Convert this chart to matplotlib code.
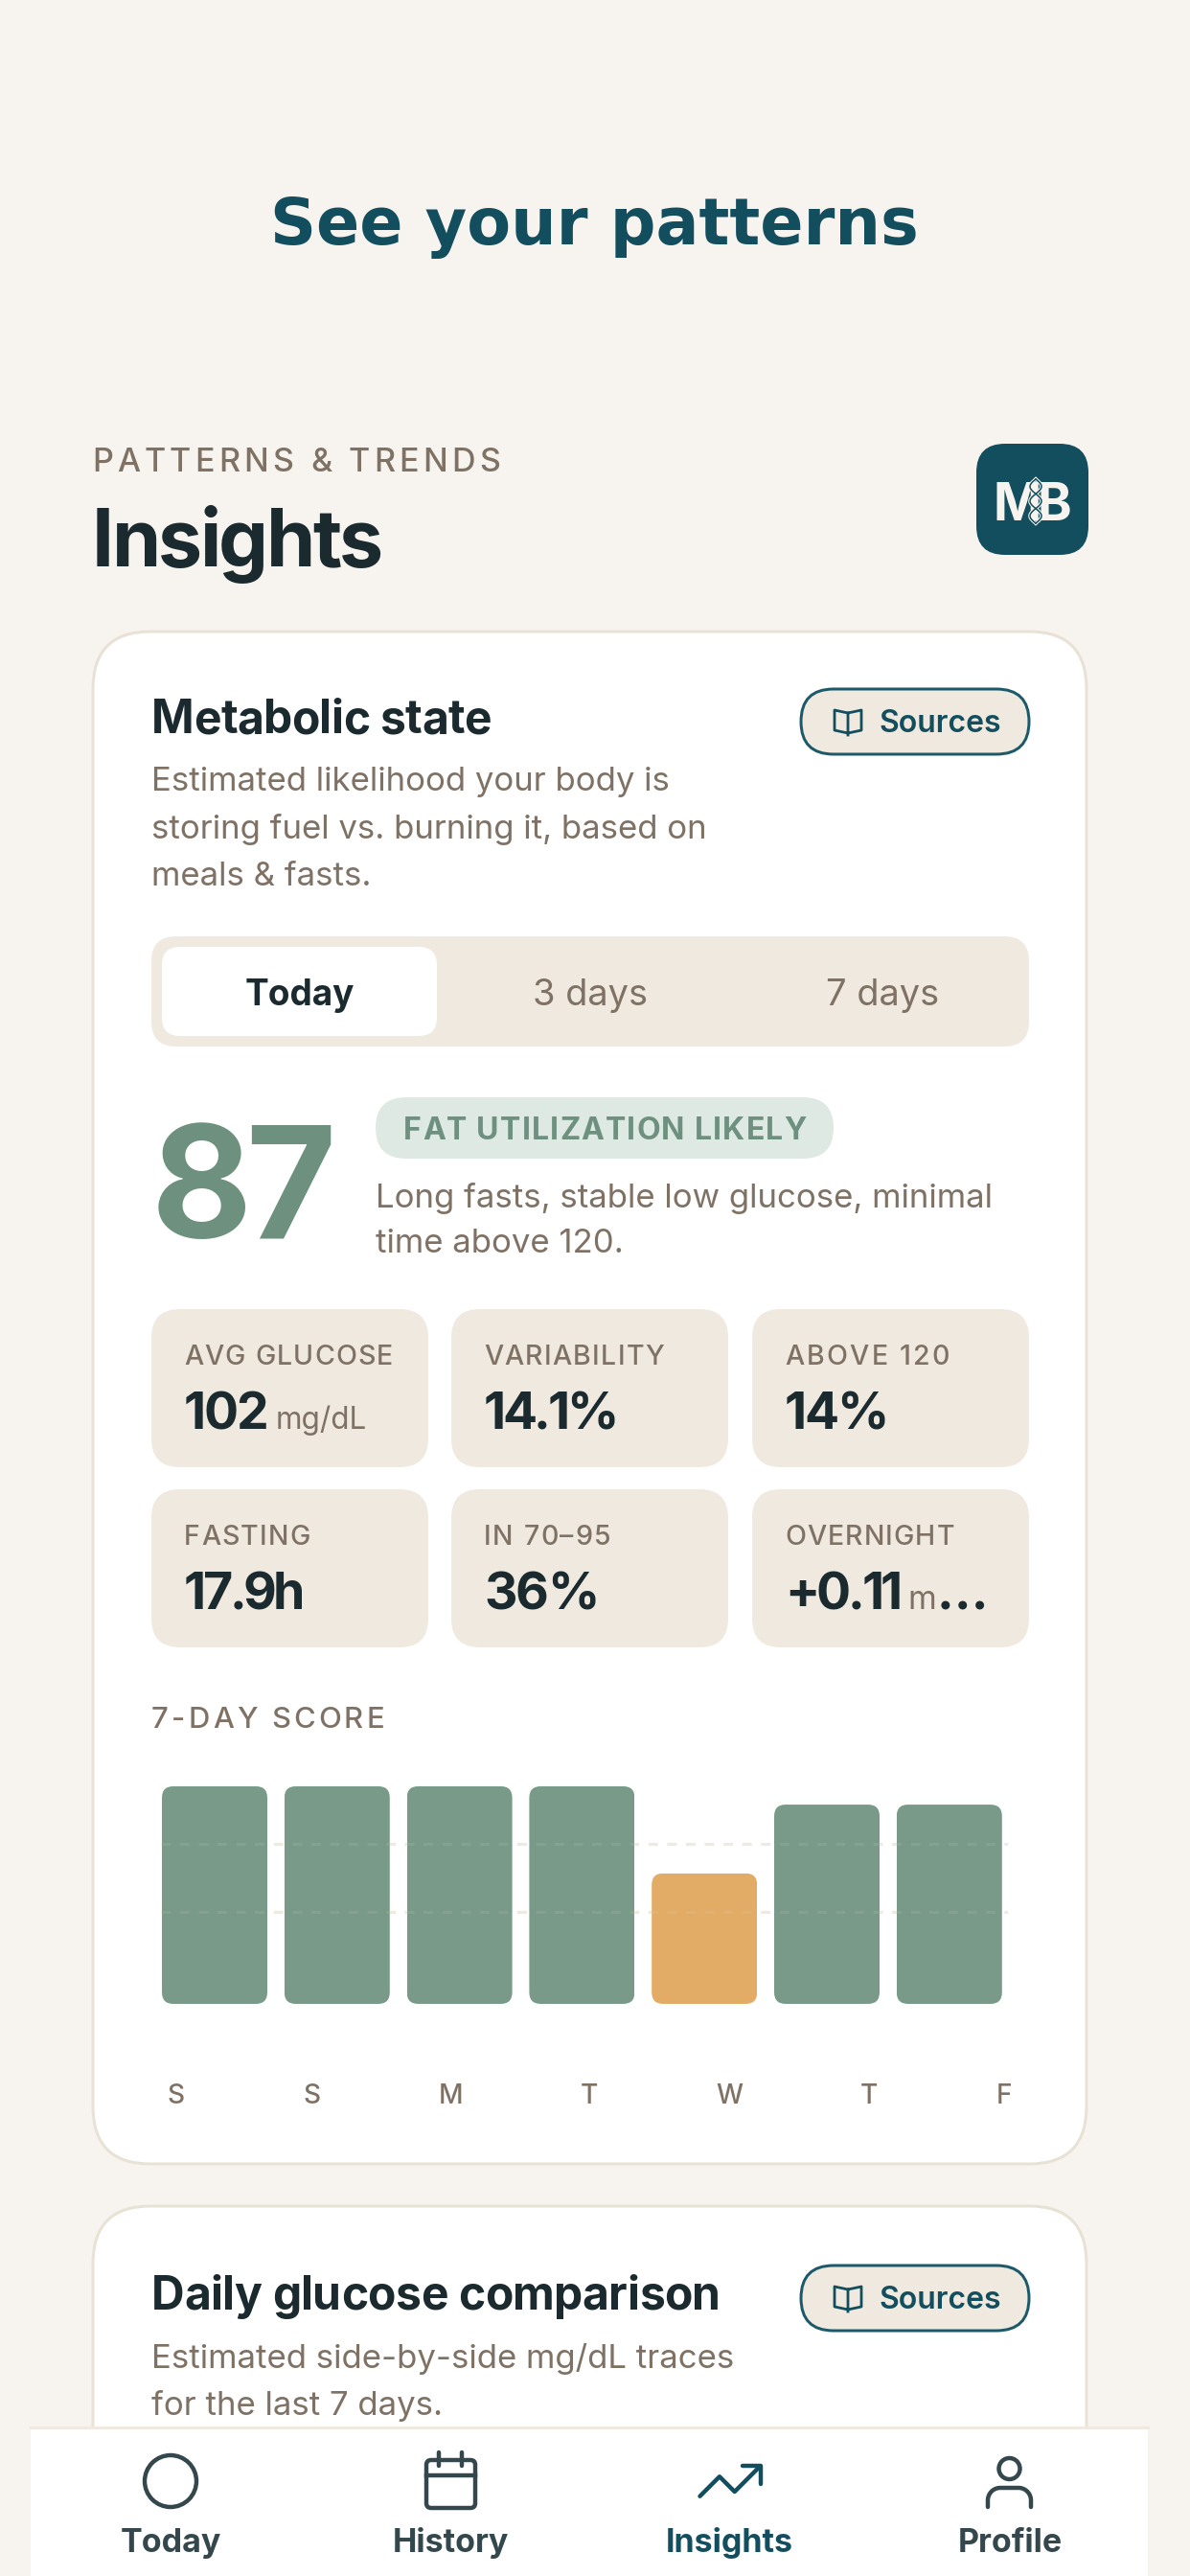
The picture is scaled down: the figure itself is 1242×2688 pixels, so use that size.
import numpy as np
import matplotlib
matplotlib.use("Agg")
import matplotlib.pyplot as plt
from matplotlib.patches import FancyBboxPatch, Circle
from matplotlib.text import Text
from matplotlib.transforms import IdentityTransform

days = ["S", "S", "M", "T", "W", "T", "F"]
scores = [95, 95, 95, 95, 57, 87, 87]
grid_levels = [40, 70]
low_cutoff = 60

stat_labels = ["AVG GLUCOSE", "VARIABILITY", "ABOVE 120", "FASTING", "IN 70–95", "OVERNIGHT"]
stat_values = ["102", "14.1%", "14%", "17.9h", "36%", "+0.11"]
stat_units = ["mg/dL", "", "", "", "", "m"]
nav_labels = ["Today", "History", "Insights", "Profile"]

W, H = 1242, 2688
BG = "#f7f4ef"; TEAL = "#134e5e"; INK = "#1a2a2e"; MUTED = "#7f7265"
SAND = "#f0e9df"; GREEN = "#7a9a89"; GREEN2 = "#6d917e"; ORANGE = "#e2ac66"; NAVINK = "#33474c"

plt.rcParams["font.family"] = ["Inter", "DejaVu Sans"]
fig = plt.figure(figsize=(W / 100, H / 100), dpi=100, facecolor=BG)
bg = fig.add_axes([0, 0, 1, 1]); bg.set_xlim(0, W); bg.set_ylim(H, 0); bg.axis("off")


class Tracked(Text):
    """Text drawn with even letter spacing so that the run fills a given pixel width."""
    target = None

    def draw(self, renderer):
        s = self.get_text(); fp = self.get_fontproperties()
        w = lambda t: renderer.get_text_width_height_descent(t, fp, False)[0]
        extra = (self.target - w(s)) / max(len(s) - 1, 1)
        X, Y = self.get_transform().transform(self.get_position())
        left = X - self.target / 2 if self.get_ha() == "center" else X
        for i, c in enumerate(s):
            if c == " ":
                continue
            x = left + w(s[:i + 1]) - w(c) + i * extra
            t = Text(x, Y, c, fontproperties=fp, color=self.get_color(), ha="left", va="baseline",
                     transform=IdentityTransform())
            t.set_figure(self.get_figure())
            t.draw(renderer)


def T(x, y, s, px, color=INK, weight="normal", ha="left", family=None, zorder=5, width=None):
    kw = {"family": family} if family else {}
    t = bg.text(x, y, s, fontsize=px * 0.72, color=color, fontweight=weight, ha=ha, va="baseline", zorder=zorder, **kw)
    if width is not None:
        t.__class__ = Tracked
        t.target = width
    return t


def R(x0, y0, x1, y1, r, fc, ec="none", lw=0, zorder=1):
    p = FancyBboxPatch((x0, y0), x1 - x0, y1 - y0, boxstyle=f"round,pad=0,rounding_size={r}",
                       fc=fc, ec=ec, lw=lw * 0.72, zorder=zorder)
    bg.add_patch(p); return p


def sources(y0):
    R(836, y0, 1074, y0 + 68, 34, SAND, "#1d5a69", 3, zorder=2)
    cx = 885; t = y0 + 22; b = y0 + 46
    bg.plot([cx, cx - 14, cx - 14, cx, cx + 14, cx + 14, cx, cx], [t + 3, t, b - 3, b, b - 3, t, t + 3, b + 2],
            color=TEAL, lw=2.0, zorder=3, solid_joinstyle="round")
    T(917, y0 + 45, "Sources", 32, TEAL, "semibold")


# header
T(620, 255, "See your patterns", 66.7, TEAL, "bold", ha="center", family="DejaVu Sans")
T(96, 492, "PATTERNS & TRENDS", 34, MUTED, "medium", width=426)
T(96, 591, "Insights", 82.5, INK, "bold", width=304)
R(1019, 463, 1136, 579, 30, TEAL)
T(1036, 543, "MB", 54, BG, "bold", width=82)
yy = np.linspace(500, 546, 60)
phase = (yy - 500) / 46 * 3 * np.pi
for sign in (1, -1):
    bg.plot(1081 + sign * 6 * np.sin(phase), yy, color=BG, lw=2.6, zorder=6)
for sign in (1, -1):
    bg.plot(1081 + sign * 6 * np.sin(phase), yy, color=TEAL, lw=1.1, zorder=7)

# card 1
R(97, 659, 1134, 2258, 60, "white", "#e8e2d6", 3)
T(158, 765, "Metabolic state", 48, INK, "bold", width=355)
sources(719)
for y, s in zip([825, 875, 924], ["Estimated likelihood your body is", "storing fuel vs. burning it, based on", "meals & fasts."]):
    T(158, y, s, 34.8, MUTED)
R(158, 977, 1074, 1092, 26, SAND)
R(169, 988, 456, 1081, 19, "white", zorder=2)
T(313, 1049, "Today", 37, INK, "bold", ha="center")
T(615.5, 1049, "3 days", 38, MUTED, ha="center")
T(921, 1049, "7 days", 38, MUTED, ha="center")

T(158, 1291, "87", 162, GREEN2, "bold", width=192)
R(392, 1145, 870, 1209, 32, "#dfe9e3")
T(421, 1189, "FAT UTILIZATION LIKELY", 32, GREEN2, "bold", width=421)
T(392, 1260, "Long fasts, stable low glucose, minimal", 34.8, MUTED)
T(392, 1307, "time above 120.", 34.8, MUTED)

xs = [158, 471, 785]; ys = [1366, 1554]
label_widths = [218, 188, 172, 132, 132, 177]
value_widths = [88, 140, 109, 126, 120, 123]
for i, (lab, val, unit) in enumerate(zip(stat_labels, stat_values, stat_units)):
    x = xs[i % 3]; y = ys[i // 3]
    R(x, y, x + 289, y + 165, 30, SAND)
    T(x + 34, y + 58, lab, 28.5, MUTED, "medium", width=label_widths[i])
    T(x + 34, y + 125, val, 53.5, INK, "bold", width=value_widths[i])
    if unit == "mg/dL":
        T(x + 130, y + 125, unit, 31.5, MUTED)
    elif unit:
        T(x + 162, y + 125, unit, 34, MUTED)
        T(x + 193, y + 125, "…", 53.5, INK, "bold", width=46)

T(158, 1803, "7-DAY SCORE", 31, MUTED, "medium", width=243)

# bar chart
PX0 = 224; PITCH = 127.8; Y0 = 2091; PXU = 2.39
xl, xr = 168, 1052
ax = fig.add_axes([xl / W, 1 - Y0 / H, (xr - xl) / W, 100 * PXU / H])
ax.set_xlim((xl - PX0) / PITCH, (xr - PX0) / PITCH); ax.set_ylim(0, 100)
ax.patch.set_alpha(0)
for s in ax.spines.values():
    s.set_visible(False)
ax.set_xticks([]); ax.set_yticks([])
colors = [ORANGE if v < low_cutoff else GREEN for v in scores]
bars = ax.bar(range(len(scores)), scores, width=110 / PITCH, color=colors, zorder=2)
rad = 12
for b in bars:
    clip = FancyBboxPatch((b.get_x(), b.get_y()), b.get_width(), b.get_height(),
                          boxstyle=f"round,pad=0,rounding_size={rad / PITCH}",
                          mutation_aspect=PITCH / PXU, transform=ax.transData)
    b.set_clip_path(clip)
for g in grid_levels:
    ax.axhline(g, color="#efe9df", lw=2.2, dashes=(3.2, 3.2), zorder=1)
    ax.axhline(g, color="#efe9df", alpha=0.10, lw=2.2, dashes=(3.2, 3.2), zorder=3)

for x, d in zip([184, 325, 470, 615, 761, 907, 1048], days):
    T(x, 2195, d, 28, MUTED, "medium", ha="center")

# card 2
R(97, 2302, 1134, 2800, 60, "white", "#e8e2d6", 3)
T(158, 2410, "Daily glucose comparison", 48, INK, "bold", width=594)
sources(2364)
T(158, 2471, "Estimated side-by-side mg/dL traces", 34.8, MUTED)
T(158, 2520, "for the last 7 days.", 34.8, MUTED)

# nav
nz = 8
bg.add_patch(plt.Rectangle((32, 2532), 1166, 160, fc="white", ec="none", zorder=nz))
bg.plot([32, 1198], [2533, 2533], color="#efe9df", lw=2.2, zorder=nz + 1)
lw = 3.2
bg.add_patch(Circle((178, 2589), 27, fc="none", ec=NAVINK, lw=lw, zorder=nz + 1))
p = FancyBboxPatch((445, 2567), 51, 50, boxstyle="round,pad=0,rounding_size=5", fc="none", ec=NAVINK, lw=lw, zorder=nz + 1)
bg.add_patch(p)
for x in (458, 482):
    bg.plot([x, x], [2559, 2573], color=NAVINK, lw=lw, zorder=nz + 1, solid_capstyle="round")
bg.plot([445, 496], [2583, 2583], color=NAVINK, lw=lw, zorder=nz + 1)


def lu(u, v):
    return 762 + (u - 12) * 3.15, 2589 + (v - 12) * 3.15


for line in ([(22, 7), (13.5, 15.5), (8.5, 10.5), (2, 17)], [(16, 7), (22, 7), (22, 13)]):
    pts = [lu(*q) for q in line]
    bg.plot(*zip(*pts), color=TEAL, lw=lw, zorder=nz + 1, solid_capstyle="round", solid_joinstyle="round")
bg.add_patch(Circle((1053.5, 2576), 11, fc="none", ec=NAVINK, lw=lw, zorder=nz + 1))
t = np.linspace(np.pi, np.pi / 2, 20)
xb = np.r_[1031, 1031 + 13 + 13 * np.cos(t), 1076 - 13 - 13 * np.cos(t[::-1]), 1076]
yb = np.r_[2616, 2609 + 13 * -np.sin(t), 2609 + 13 * -np.sin(t[::-1]), 2616]
bg.plot(xb, yb, color=NAVINK, lw=lw, zorder=nz + 1, solid_capstyle="round")
for x, s in zip([178, 470, 761, 1054], nav_labels):
    T(x, 2663, s, 34, TEAL if s == "Insights" else NAVINK, "bold", ha="center", zorder=nz + 2)

fig.savefig("out.png", dpi=100, facecolor=BG)
